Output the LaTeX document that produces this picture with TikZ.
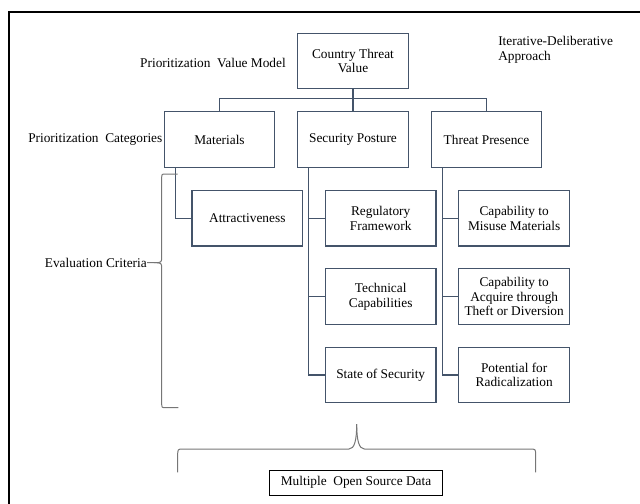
\documentclass[tikz,border=0pt]{standalone}
\usepackage{fontspec}
\setmainfont{LiberationSerif}[Extension=.ttf, UprightFont=*-Regular, BoldFont=*-Bold]
\usetikzlibrary{calc}
\definecolor{boxline}{RGB}{68,84,106}
\definecolor{braceline}{RGB}{118,118,118}

\begin{document}
\begin{tikzpicture}[x=0.75pt,y=0.75pt,yscale=-1,xscale=1,
  cbox/.style={draw=boxline, line width=0.9pt, minimum width=83pt, minimum height=41.5pt, inner sep=1pt, align=center, font=\rmfamily\fontsize{10}{11}\selectfont},
  lnk/.style={draw=boxline, line width=0.9pt},
  brc/.style={draw=braceline, line width=0.75pt},
  lbl/.style={inner sep=0.75pt, font=\rmfamily\fontsize{10}{11}\selectfont}]
\useasboundingbox (0,0) rectangle (640,504);

%Shape: Frame
\draw [line width=1.2pt] (9,504) -- (9,12) -- (640,12);

%Shape: Rectangle (value model)
\node [cbox] (ctv) at (353,61) {Country Threat\\Value};

%Shape: Rectangle (categories)
\node [cbox] (mat) at (219.5,139.5) {Materials};
\node [cbox] (sp) at (353,139.5) {Security Posture};
\node [cbox] (tp) at (486.5,139.5) {Threat Presence};

%Shape: Rectangle (criteria)
\node [cbox] (att) at (247.3,218.3) {Attractiveness};
\node [cbox] (reg) at (380.7,218.3) {Regulatory\\Framework};
\node [cbox] (tech) at (380.7,296.5) {Technical\\Capabilities};
\node [cbox] (sos) at (380.7,375) {State of Security};
\node [cbox] (cmis) at (514.2,218.3) {Capability to\\Misuse Materials};
\node [cbox] (cacq) at (514.2,296.5) {Capability to\\Acquire through\\Theft or Diversion};
\node [cbox] (prad) at (514.2,375) {Potential for\\Radicalization};

%Shape: Rectangle (data)
\node [cbox, draw=black, line width=0.75pt, minimum width=130pt, minimum height=18.75pt] (osd) at (356,482.5) {Multiple\ \ Open Source Data};

%Straight Lines
\draw [lnk] (ctv.south) -- (sp.north);
\draw [lnk] (mat.north) -- ++(0,-12.5) -| (tp.north);
\draw [lnk] ($(mat.south west)+(11.7,0)$) |- (att.west);
\draw [lnk] ($(sp.south west)+(11.7,0)$) |- (reg.west);
\draw [lnk] ($(sp.south west)+(11.7,0)$) |- (tech.west);
\draw [lnk] ($(sp.south west)+(11.7,0)$) |- (sos.west);
\draw [lnk] ($(tp.south west)+(11.7,0)$) |- (cmis.west);
\draw [lnk] ($(tp.south west)+(11.7,0)$) |- (cacq.west);
\draw [lnk] ($(tp.south west)+(11.7,0)$) |- (prad.west);

%Shape: Brace (left)
\coordinate (ectip) at (147,262.7);
\draw [brc] (177.7,174) -- (166,174) .. controls (161.7,174) .. (161.7,178.5) -- (161.7,256) .. controls (161.7,262.7) .. (154,262.7) -- (ectip);
\draw [brc] (154,262.7) .. controls (161.7,262.7) .. (161.7,269.5) -- (161.7,403) .. controls (161.7,407.7) .. (166,407.7) -- (178.3,407.7);

%Shape: Brace (bottom)
\coordinate (ostip) at (356.7,424);
\draw [brc] (177.7,472.3) -- (177.7,456) .. controls (177.7,449) .. (183,449) -- (349,449) .. controls (354.5,449) and (356.7,440) .. (ostip);
\draw [brc] (ostip) .. controls (356.7,440) and (358.9,449) .. (364.4,449) -- (530,449) .. controls (535.7,449) .. (535.7,456) -- (535.7,472.3);

% Text Node
\node [lbl, anchor=east] (pvm) at (287,63) {Prioritization\ \ Value Model};
% Text Node
\node [lbl, anchor=west, align=left] (ida) at (497,49.5) {Iterative-Deliberative\\Approach};
% Text Node
\node [lbl, anchor=east] (pcat) at (mat.west) {Prioritization\ \ Categories};
% Text Node
\node [lbl, anchor=east, inner sep=0pt] (evc) at (ectip) {Evaluation Criteria};

\end{tikzpicture}
\end{document}
